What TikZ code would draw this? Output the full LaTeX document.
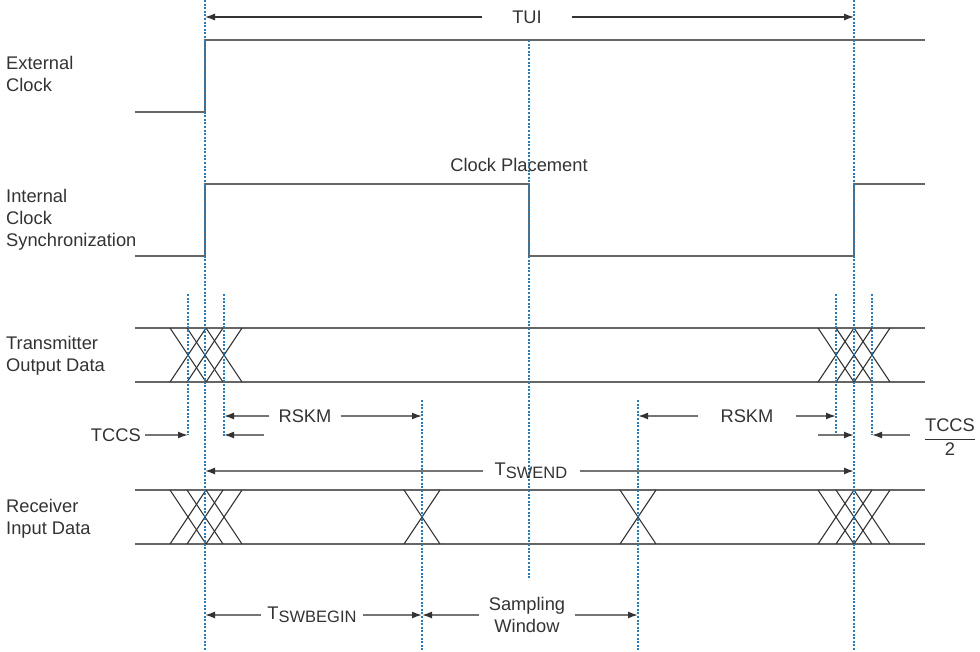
\documentclass[tikz,border=0pt]{standalone}
\usepackage{fontspec}
\setmainfont{Liberation Sans}
\usepackage{xcolor}
\usetikzlibrary{arrows.meta, positioning, calc}
\definecolor{wire}{HTML}{666666}
\definecolor{guideblue}{HTML}{2A7AB8}
\definecolor{ink}{HTML}{333333}
\tikzstyle{signal} = [draw=wire, line width=2pt]
\tikzstyle{crossing} = [draw=ink, line width=1.1pt]
\tikzstyle{guide} = [draw=guideblue, line width=1.6pt, dash pattern=on 2pt off 1.6pt]
\tikzstyle{dimline} = [draw=wire!90, line width=1.6pt, -{Latex[length=10pt,width=7pt,color=ink]}]
\tikzstyle{dimthin} = [draw=ink, line width=1.2pt, -{Latex[length=10pt,width=7pt]}]
\tikzstyle{sidetext} = [text=ink, font=\fontsize{18.3}{22}\selectfont, inner sep=0pt, align=left, anchor=west]
\tikzstyle{dimtext} = [text=ink, font=\fontsize{18.3}{22}\selectfont, inner ysep=0pt, inner xsep=6pt, align=center]
\newcommand{\lowtext}[1]{\raisebox{-3pt}{\fontsize{16.5}{16.5}\selectfont #1}}

\begin{document}
\begin{tikzpicture}[x=1pt, y=-1pt]
    \useasboundingbox (0,0) rectangle (980,651);

    % guide positions
    \coordinate (edgeL) at (205,0);
    \coordinate (edgeR) at (854,0);
    \coordinate (mid) at (529,40);
    \coordinate (swL) at (422,400);
    \coordinate (swR) at (638,400);
    \coordinate (tL1) at (188,294);
    \coordinate (tL3) at (224,294);
    \coordinate (tR1) at (836,294);
    \coordinate (tR3) at (872,294);

    % signal names
    \node (extclk) [sidetext] at (6,74) {External\\Clock};
    \node (intclk) [sidetext] at (6,220) {Internal\\Clock\\Synchronization};
    \node (txdata) [sidetext] at (6,356) {Transmitter\\Output Data};
    \node (rxdata) [sidetext] at (6,519) {Receiver\\Input Data};

    % waveforms
    \draw [signal] (135,112) -- (205,112) -- (205,40) -- (925,40);
    \draw [signal] (135,256) -- (205,256) -- (205,184) -- (529,184) -- (529,256) -- (854,256) -- (854,184) -- (925,184);
    \draw [signal] (135,328) -- (925,328) (135,382) -- (925,382);
    \draw [signal] (135,490) -- (925,490) (135,544) -- (925,544);
    \foreach \c in {188,205,224,836,854,872}
        \draw [crossing] (\c-18,328) -- (\c+18,382) (\c-18,382) -- (\c+18,328);
    \foreach \c in {188,205,224,422,638,836,854,872}
        \draw [crossing] (\c-18,490) -- (\c+18,544) (\c-18,544) -- (\c+18,490);

    \node (place) [dimtext] at (519,165) {Clock Placement};

    % dotted guides
    \draw [guide] (edgeL) -- ++(0,651);
    \draw [guide] (edgeR) -- ++(0,651);
    \draw [guide] (mid) -- (529,580);
    \draw [guide] (swL) -- ++(0,251);
    \draw [guide] (swR) -- ++(0,251);
    \draw [guide] (tL1) -- ++(0,141);
    \draw [guide] (tL3) -- ++(0,143);
    \draw [guide] (tR1) -- ++(0,141);
    \draw [guide] (tR3) -- ++(0,141);

    % TUI
    \node (tui) [dimtext, inner xsep=30pt] at (527,17) {TUI};
    \draw [dimthin] (tui.west) -- (tui.west -| edgeL);
    \draw [dimthin] (tui.east) -- (tui.east -| edgeR);

    % RSKM and TCCS
    \node (rskmL) [dimtext, inner xsep=9pt] at (305,416) {RSKM};
    \draw [dimline] (rskmL.west) -- (rskmL.west -| tL3);
    \draw [dimline] (rskmL.east) -- (rskmL.east -| swL);
    \node (rskmR) [dimtext, inner xsep=22pt] at (747,416) {RSKM};
    \draw [dimline] (rskmR.west) -- (rskmR.west -| swR);
    \draw [dimline] (rskmR.east) -- (rskmR.east -| tR1);

    \node (tccsL) [dimtext, inner xsep=4pt, anchor=east] at (145,435) {TCCS};
    \draw [dimline] (tccsL.east) -- (tccsL.east -| tL1);
    \coordinate (tcsL) at (264,435);
    \draw [dimline] (tcsL) -- (tcsL -| tL3);
    \coordinate (tcsR) at (818,435);
    \draw [dimline] (tcsR) -- (tcsR -| edgeR);
    \node (tccsR) [dimtext, inner sep=0pt] at (950,437) {$\displaystyle\frac{\mbox{TCCS}}{\mbox{2}}$};
    \coordinate (tcsR2) at (910,435);
    \draw [dimline] (tcsR2) -- (tcsR2 -| tR3);

    % sampling window
    \node (tswend) [dimtext, inner xsep=12pt] at (531,471) {T\lowtext{SWEND}};
    \draw [dimline] (tswend.west) -- (tswend.west -| edgeL);
    \draw [dimline] (tswend.east) -- (tswend.east -| edgeR);
    \node (tswbegin) [dimtext, inner xsep=6pt] at (312,615) {T\lowtext{SWBEGIN}};
    \draw [dimline] (tswbegin.west) -- (tswbegin.west -| edgeL);
    \draw [dimline] (tswbegin.east) -- (tswbegin.east -| swL);
    \node (samp) [dimtext, inner xsep=10pt] at (527,615) {Sampling\\Window};
    \draw [dimline] (samp.west) -- (samp.west -| swL);
    \draw [dimline] (samp.east) -- (samp.east -| swR);
\end{tikzpicture}
\end{document}
